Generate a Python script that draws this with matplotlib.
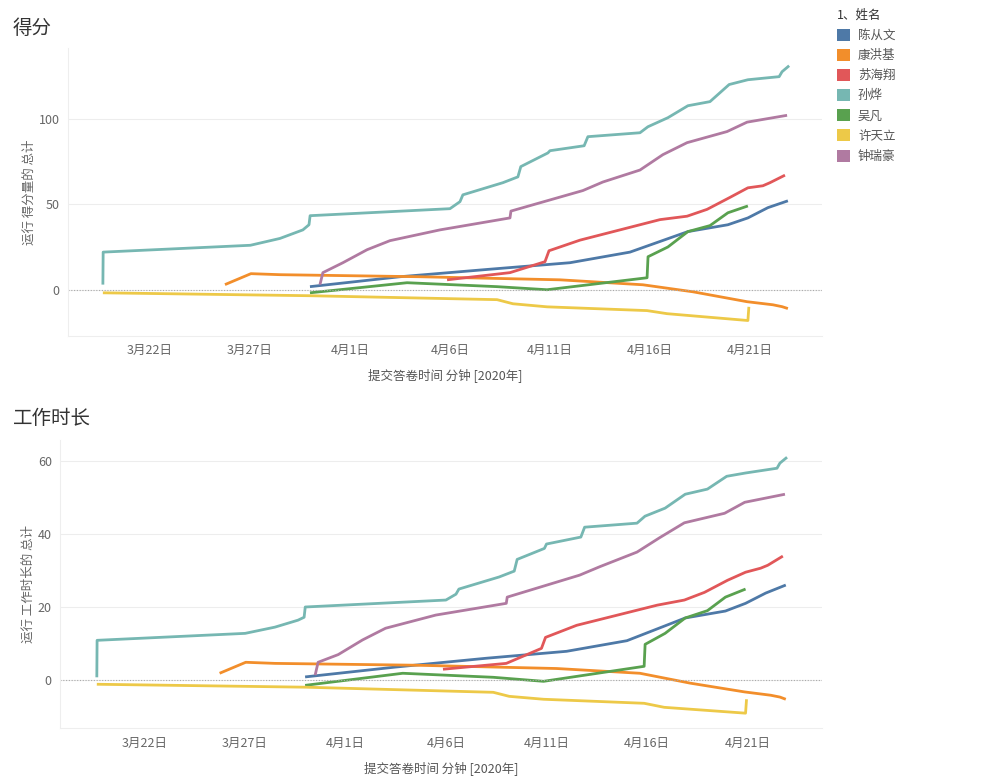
import pandas as pd
import matplotlib
matplotlib.use("Agg")
import matplotlib.pyplot as plt
import matplotlib.dates as mdates
from matplotlib.patches import Patch

plt.rcParams['font.family'] = ['Noto Sans CJK SC', 'DejaVu Sans']

names = ["陈从文", "康洪基", "苏海翔", "孙烨", "吴凡", "许天立", "钟瑞豪"]
colors = ["#4e79a7", "#f28e2b", "#e15759", "#76b7b2", "#59a14f", "#edc948", "#b07aa1"]

# submission times (2020), shared by both charts
chen_t = ["03-30 00:00", "04-03 12:00", "04-08 00:00", "04-12 00:00", "04-15 00:00",
          "04-17 21:30", "04-19 21:30", "04-20 21:30", "04-21 21:30", "04-22 21:30"]
chen_score = [1.8, 7.6, 12, 15.8, 22, 34, 38, 42, 48, 52]
chen_hours = [0.9, 3.6, 6, 7.9, 10.8, 17, 18.9, 21, 23.8, 26]

kang_t = ["03-25 18:00", "03-27 01:10", "03-28 12:00", "04-04 12:00", "04-11 12:00",
          "04-15 15:30", "04-18 03:30", "04-20 20:30", "04-22 03:30", "04-22 14:30", "04-22 21:30"]
kang_score = [3, 9.4, 8.8, 7.6, 5.8, 2.9, -1.2, -7, -8.8, -9.9, -11]
kang_hours = [1.9, 4.9, 4.6, 4.1, 3.2, 1.9, -0.8, -3.2, -4.1, -4.6, -5.2]

su_t = ["04-05 20:30", "04-09 00:00", "04-10 18:00", "04-10 22:50", "04-12 12:00",
        "04-16 12:00", "04-17 20:30", "04-18 20:30", "04-20 00:00", "04-20 21:30",
        "04-21 15:30", "04-22 00:00", "04-22 18:00"]
su_score = [5.8, 10, 16.4, 22.8, 29, 41, 43, 47, 54, 59.6, 60.8, 62.6, 67]
su_hours = [3, 4.6, 8.7, 11.7, 15, 20.5, 21.9, 24, 27.3, 29.5, 30.6, 31.4, 33.9]

sun_t = ["03-19 15:30", "03-19 15:50", "03-27 00:30", "03-28 12:00", "03-29 15:30",
         "03-29 22:50", "03-30 00:10", "04-06 00:00", "04-06 12:00", "04-06 15:30",
         "04-08 15:30", "04-09 09:30", "04-09 13:00", "04-10 21:30", "04-11 00:00",
         "04-12 17:00", "04-12 21:30", "04-15 12:00", "04-15 21:30", "04-16 21:30",
         "04-17 21:30", "04-19 00:00", "04-19 23:00", "04-20 21:30", "04-22 11:00",
         "04-22 14:30", "04-22 23:00"]
sun_score = [3, 22, 26, 30, 35, 38, 43.3, 47.4, 51.5, 55.5, 62.6, 66, 72, 80, 81.3,
             84.2, 89.5, 91.8, 95.3, 100.6, 107.6, 110, 120, 122.8, 124.6, 127.5, 131]
sun_hours = [0.8, 10.9, 12.8, 14.5, 16.4, 17.2, 20, 21.9, 23.5, 24.9, 28.2, 29.8, 33,
             36, 37.2, 39.1, 41.8, 42.9, 44.8, 47, 50.8, 52.2, 55.7, 56.6, 57.9, 59.3, 60.9]

wu_t = ["03-30 00:00", "04-03 20:30", "04-08 08:30", "04-10 20:30", "04-15 20:30",
        "04-15 21:40", "04-16 21:30", "04-17 21:30", "04-19 00:00", "04-19 21:30", "04-20 21:30"]
wu_score = [-1.8, 4.1, 1.8, 0, 7, 19.3, 25, 34, 37.5, 45, 49]
wu_hours = [-1.4, 1.9, 0.8, -0.3, 3.8, 9.8, 12.8, 17, 19, 22.7, 24.9]

xu_t = ["03-19 15:30", "03-30 00:00", "04-08 08:30", "04-09 03:30", "04-10 20:30",
        "04-15 20:30", "04-16 20:30", "04-20 21:30", "04-20 22:40"]
xu_score = [-1.8, -3.5, -5.8, -8.2, -10, -12.2, -14, -18, -10]
xu_hours = [-1.1, -1.9, -3.3, -4.4, -5.2, -6.3, -7.4, -9, -5.2]

zhong_t = ["03-30 12:00", "03-30 15:30", "03-31 15:30", "04-01 20:30", "04-03 00:00",
           "04-05 12:00", "04-09 00:00", "04-09 01:10", "04-12 15:30", "04-13 15:30",
           "04-15 12:00", "04-16 15:30", "04-17 20:30", "04-19 20:30", "04-20 20:30", "04-22 20:30"]
zhong_score = [3, 10, 15.8, 23.4, 28.7, 35, 42, 46, 58, 63, 70, 79, 86, 92.5, 98, 102]
zhong_hours = [1.4, 4.9, 7, 11, 14.2, 17.8, 21, 22.7, 28.7, 31, 35, 39, 43, 45.6, 48.6, 50.8]

times = [chen_t, kang_t, su_t, sun_t, wu_t, xu_t, zhong_t]
scores = [chen_score, kang_score, su_score, sun_score, wu_score, xu_score, zhong_score]
hours = [chen_hours, kang_hours, su_hours, sun_hours, wu_hours, xu_hours, zhong_hours]


def to_dt(lst):
    return pd.to_datetime(["2020-" + s for s in lst])


def date_fmt(x, pos):
    d = mdates.num2date(x)
    return f"{d.month}月{d.day}日"


fig = plt.figure(figsize=(9.85, 7.83), dpi=100)
ax1 = fig.add_axes([0.069, 0.571, 0.7655, 0.368])
ax2 = fig.add_axes([0.061, 0.070, 0.7736, 0.368])

base = pd.Timestamp("2020-03-22")
setups = [
    (ax1, scores, (-4.1, 33.6), (-27, 141.5), [0, 50, 100], "运行 得分量的 总计"),
    (ax2, hours, (-4.18, 33.7), (-13.1, 65.6), [0, 20, 40, 60], "运行 工作时长的 总计"),
]

for ax, vals, xl, yl, yt, ylab in setups:
    for t, v, c in zip(times, vals, colors):
        ax.plot(to_dt(t), v, color=c, lw=2.0, solid_capstyle='butt')
    ax.set_xlim(base + pd.Timedelta(days=xl[0]), base + pd.Timedelta(days=xl[1]))
    ax.set_ylim(*yl)
    ax.set_yticks(yt)
    ticks = [base + pd.Timedelta(days=5 * i) for i in range(7)]
    ax.set_xticks(ticks)
    ax.xaxis.set_major_formatter(plt.FuncFormatter(date_fmt))
    ax.grid(axis='y', color='#ededed', lw=0.8)
    ax.axhline(0, color='#aaaaaa', lw=0.8, ls=(0, (1, 1.5)))
    for s in ['top', 'right']:
        ax.spines[s].set_visible(False)
    ax.spines['left'].set_color('#eeeeee')
    ax.spines['bottom'].set_color('#eeeeee')
    ax.tick_params(length=0, labelsize=9, labelcolor='#666666', pad=6)
    ax.set_ylabel(ylab, fontsize=9, color='#666666', labelpad=2)
    ax.set_xlabel("提交答卷时间 分钟 [2020年]", fontsize=9, color='#555555', labelpad=8)

fig.text(0.013, 0.963, "得分", fontsize=14, color='#333333', va='center')
fig.text(0.013, 0.466, "工作时长", fontsize=14, color='#333333', va='center')

handles = [Patch(facecolor=c, edgecolor='none') for c in colors]
leg = fig.legend(handles, names, title="1、姓名", loc='upper left',
                 bbox_to_anchor=(0.838, 1.003), frameon=False,
                 handlelength=1.1, handleheight=1.1, handletextpad=0.6,
                 labelspacing=0.55, fontsize=9, title_fontsize=9)
leg._legend_box.align = 'left'
for txt in leg.get_texts():
    txt.set_color('#555555')
leg.get_title().set_color('#333333')

fig.savefig("out.png", dpi=100)
